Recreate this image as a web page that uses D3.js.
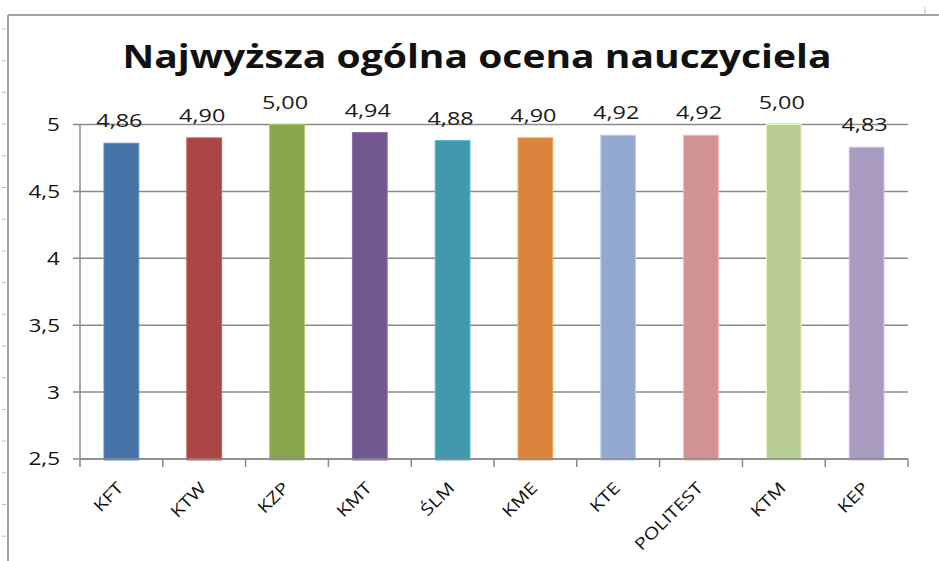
<!DOCTYPE html>
<html>
<head>
<meta charset="utf-8">
<script src="https://cdn.jsdelivr.net/npm/d3@7"></script>
<style>
  html, body { margin: 0; padding: 0; background: #ffffff; }
  svg { display: block; }
  text { font-family: "Open Sans", "Liberation Sans", sans-serif; }
</style>
</head>
<body>
<svg id="chart" width="939" height="561"></svg>
<script>
// ---- data ----
const title = "Najwyższa ogólna ocena nauczyciela";
const categories = ["KFT", "KTW", "KZP", "KMT", "ŚLM", "KME", "KTE", "POLITEST", "KTM", "KEP"];
const values = [4.86, 4.90, 5.00, 4.94, 4.88, 4.90, 4.92, 4.92, 5.00, 4.83];
const colors = ["#4572A7", "#AA4643", "#89A54E", "#71588F", "#4198AF", "#DB843D", "#93A9CF", "#D19392", "#B9CD96", "#A99BBD"];
const yTicks = [2.5, 3, 3.5, 4, 4.5, 5];
const yDomain = [2.5, 5];

// ---- layout ----
const W = 939, H = 561;
const plot = { left: 80, right: 908, top: 124.5, bottom: 459 };
const svg = d3.select("#chart");

function stretch(sel, factor) {
  sel.each(function () {
    const w = this.getComputedTextLength();
    d3.select(this).attr("textLength", w * factor).attr("lengthAdjust", "spacingAndGlyphs");
  });
}
const fmt = v => d3.format(".2f")(v).replace(".", ",");
const fmtTick = v => String(v).replace(".", ",");

// frame (outer chart border)
svg.append("line").attr("x1", 8).attr("x2", W).attr("y1", 15).attr("y2", 15)
  .attr("stroke", "#a0a0a0").attr("stroke-width", 2);
svg.append("line").attr("x1", 8).attr("x2", 8).attr("y1", 15).attr("y2", H)
  .attr("stroke", "#a0a0a0").attr("stroke-width", 2);
// spreadsheet ruler marks at the far left
d3.range(0, 17).forEach(i => {
  svg.append("line").attr("x1", 2).attr("x2", 6)
    .attr("y1", 29 + i * 31.7).attr("y2", 29 + i * 31.7)
    .attr("stroke", "#b4bccb").attr("stroke-width", 1);
});
svg.append("line").attr("x1", 925).attr("x2", 925).attr("y1", 7).attr("y2", 14)
  .attr("stroke", "#b4bccb").attr("stroke-width", 1);

// title
const t = svg.append("text").attr("x", 477).attr("y", 68)
  .attr("text-anchor", "middle").attr("font-size", 33).attr("font-weight", 700)
  .attr("fill", "#111").text(title)
  .attr("textLength", 709).attr("lengthAdjust", "spacingAndGlyphs");

// scales
const x = d3.scaleBand().domain(categories).range([plot.left, plot.right]).paddingInner(0.58).paddingOuter(0.29);
const xb = d3.scaleBand().domain(categories).range([plot.left, plot.right]);
const y = d3.scaleLinear().domain(yDomain).range([plot.bottom, plot.top]);

// gridlines
svg.append("g").selectAll("line").data(yTicks).join("line")
  .attr("x1", plot.left - 7).attr("x2", plot.right)
  .attr("y1", d => y(d)).attr("y2", d => y(d))
  .attr("stroke", "#8a8a8a").attr("stroke-width", 1.5);

// y axis line
svg.append("line").attr("x1", plot.left).attr("x2", plot.left)
  .attr("y1", y(yDomain[1])).attr("y2", y(yDomain[0]))
  .attr("stroke", "#8a8a8a").attr("stroke-width", 1.5);

// y tick labels
const yl = svg.append("g").selectAll("text").data(yTicks).join("text")
  .attr("x", 60).attr("y", d => y(d)).attr("dy", "0.36em")
  .attr("text-anchor", "end").attr("font-size", 18).attr("fill", "#111")
  .text(fmtTick);
stretch(yl, 1.25);

// x ticks at band boundaries
const bounds = categories.map(c => xb(c)).concat([plot.right]);
svg.append("g").selectAll("line").data(bounds).join("line")
  .attr("x1", d => d).attr("x2", d => d)
  .attr("y1", y(yDomain[0])).attr("y2", y(yDomain[0]) + 8)
  .attr("stroke", "#8a8a8a").attr("stroke-width", 1.5);

// bars
svg.append("g").selectAll("rect").data(values).join("rect")
  .attr("x", (d, i) => x(categories[i]))
  .attr("width", x.bandwidth())
  .attr("y", d => y(d))
  .attr("height", d => y(yDomain[0]) + 1 - y(d))
  .attr("fill", (d, i) => colors[i])
  .attr("stroke", (d, i) => d3.color(colors[i]).brighter(0.6))
  .attr("stroke-width", 1);

// bottom axis line (drawn over bar bottoms)
svg.append("line").attr("x1", plot.left).attr("x2", plot.right)
  .attr("y1", y(yDomain[0])).attr("y2", y(yDomain[0]))
  .attr("stroke", "#8a8a8a").attr("stroke-width", 1.5);

// data labels
const dl = svg.append("g").selectAll("text").data(values).join("text")
  .attr("x", (d, i) => x(categories[i]) + x.bandwidth() / 2 - 2)
  .attr("y", d => y(d) - 16)
  .attr("text-anchor", "middle").attr("font-size", 18).attr("fill", "#1a1a1a")
  .text(fmt);
stretch(dl, 1.3);

// category labels
const xl = svg.append("g").selectAll("text").data(categories).join("text")
  .attr("transform", d => `translate(${xb(d) + xb.bandwidth() / 2 + 3},${y(yDomain[0]) + 30}) rotate(-45)`)
  .attr("text-anchor", "end").attr("font-size", 16.5).attr("fill", "#111")
  .attr("font-weight", 500)
  .text(d => d);
stretch(xl, 1.22);
</script>
</body>
</html>
